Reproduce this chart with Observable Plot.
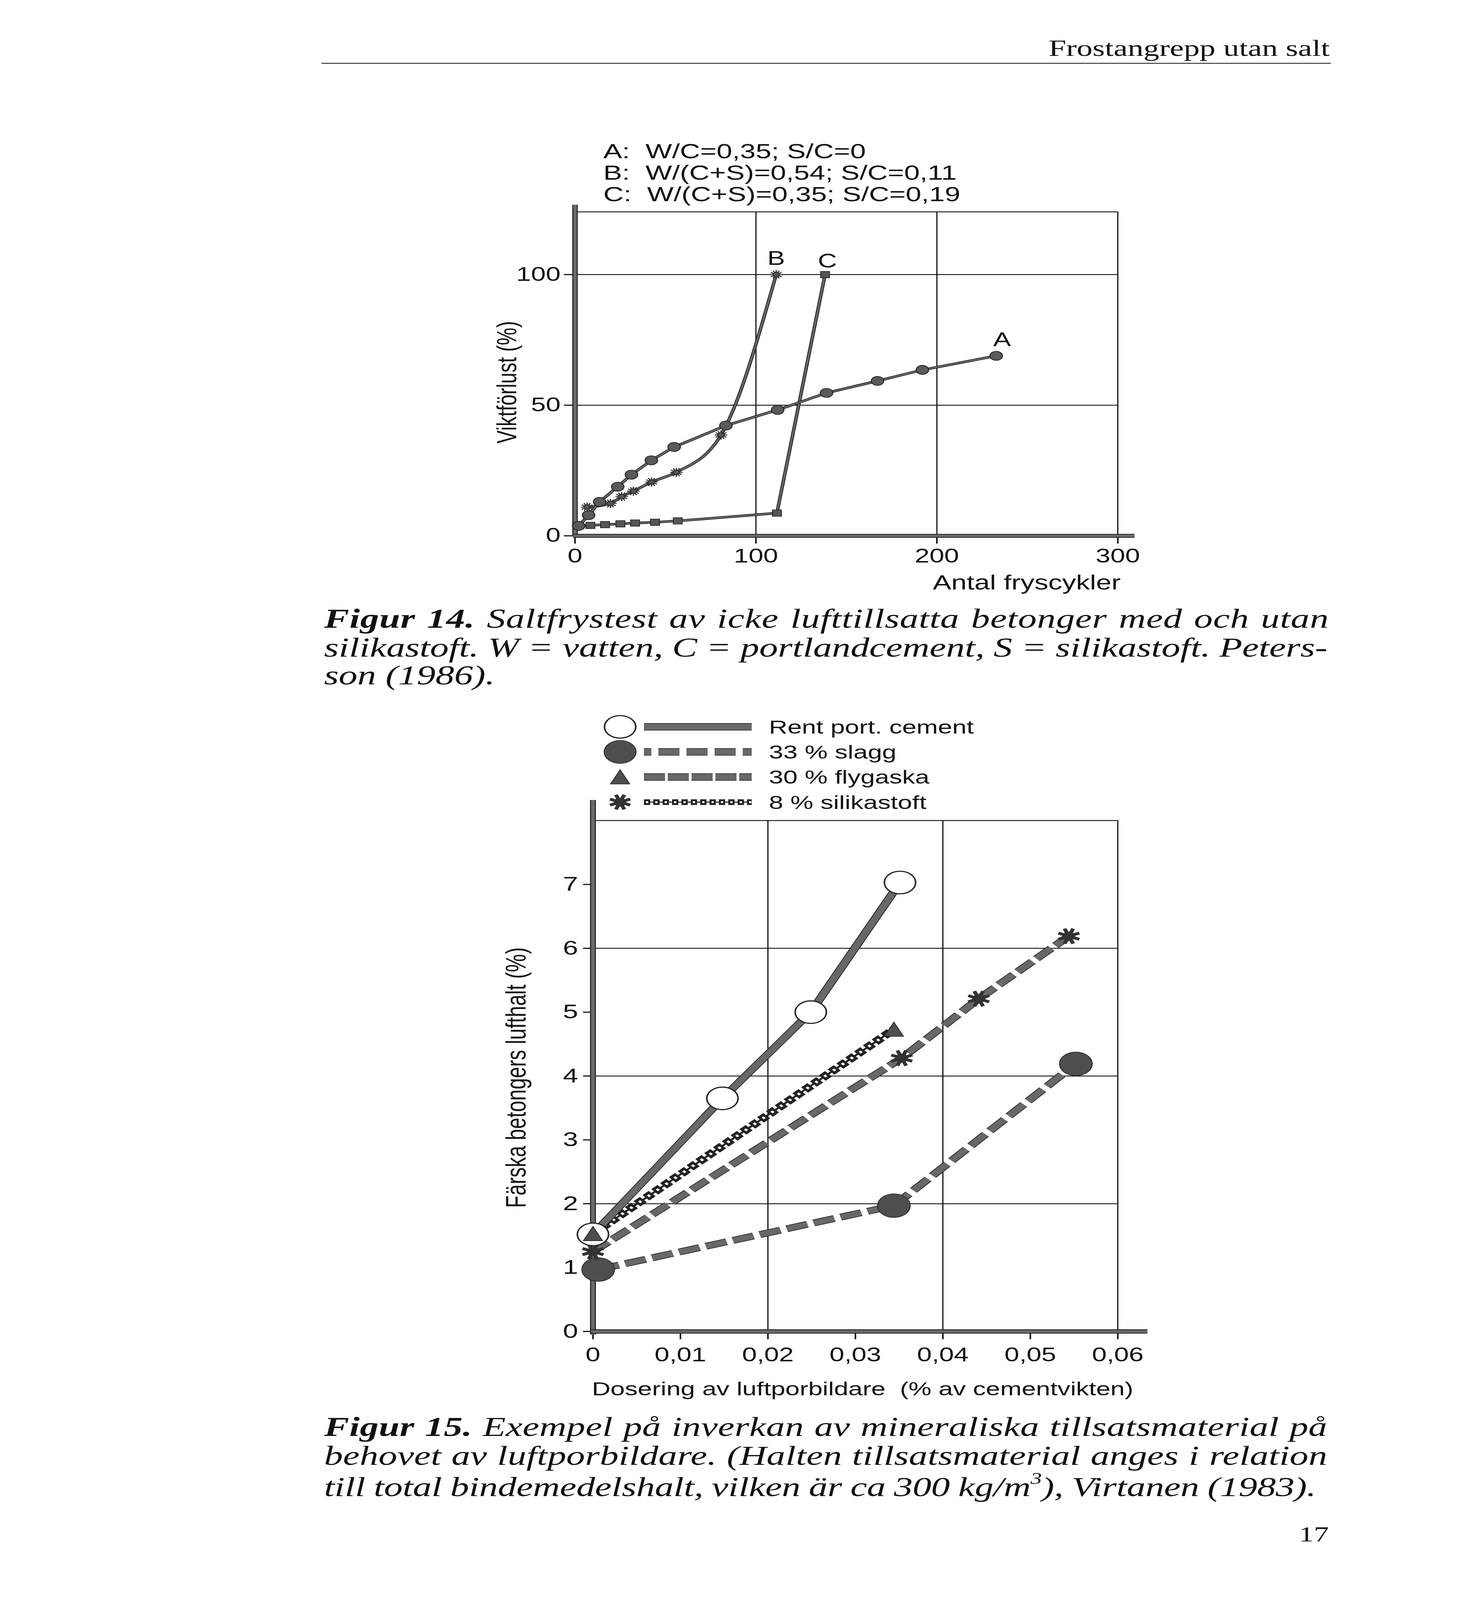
<!DOCTYPE html>
<html><head><meta charset="utf-8">
<script src="https://cdn.jsdelivr.net/npm/d3@7"></script>
<script src="https://cdn.jsdelivr.net/npm/@observablehq/plot@0.6"></script>
<style>
html,body{margin:0;padding:0;background:#fff;overflow:hidden;}
#page{position:relative;width:3790px;height:5675px;background:#fff;overflow:hidden;}
.t{position:absolute;white-space:pre;line-height:1;color:#111;}
.sans{font-family:"Liberation Sans",Arial,sans-serif;}
.serif{font-family:"Liberation Serif","Times New Roman",serif;}
svg.abs{position:absolute;}
</style></head><body><div id="page"></div>
<script>
// ---------------- Figur 14 data ----------------
const aCycles = [2, 7.5, 13.6, 23.6, 31.2, 42.2, 54.8, 83.4, 112, 139, 167.2, 192, 232.8];
const aLoss   = [3.8, 7.9, 13.0, 18.8, 23.4, 28.9, 34.0, 42.2, 48.2, 54.7, 59.3, 63.5, 68.9];
const bCycles = [6.7, 19.6, 25.8, 32.3, 42.3, 56, 80.7, 111.2];
const bLoss   = [11.0, 12.4, 15.0, 17.1, 20.6, 24.3, 38.6, 100];
const cCycles = [2, 8.5, 16.6, 25.1, 33.2, 44.2, 56.8, 111.6, 138.2];
const cLoss   = [3.8, 4.0, 4.3, 4.6, 4.9, 5.2, 5.7, 8.7, 100];
const seriesNames14 = ["A", "B", "C"];
const notes14 = ["A:  W/C=0,35; S/C=0", "B:  W/(C+S)=0,54; S/C=0,11", "C:  W/(C+S)=0,35; S/C=0,19"];
const ticks14X = [0, 100, 200, 300];
const ticks14Y = [0, 50, 100];
const grid14X = [100, 200, 300];
const grid14Y = [50, 100, 124];

// ---------------- Figur 15 data ----------------
const doseCement = [0, 0.0148, 0.0249, 0.0351];
const airCement  = [1.52, 3.65, 5.0, 7.03];
const doseSlag   = [0.0006, 0.0344, 0.0552];
const airSlag    = [0.97, 1.97, 4.19];
const doseAsh    = [0, 0.0344];
const airAsh     = [1.53, 4.73];
const doseSilica = [0, 0.0353, 0.0441, 0.0544];
const airSilica  = [1.25, 4.28, 5.21, 6.19];
const legend15 = ["Rent port. cement", "33 % slagg", "30 % flygaska", "8 % silikastoft"];
const ticks15X = [0, 0.01, 0.02, 0.03, 0.04, 0.05, 0.06];
const ticks15Y = [0, 1, 2, 3, 4, 5, 6, 7];
const grid15X = [0.02, 0.04, 0.06];
const grid15Y = [2, 4, 6, 8];

const page = document.getElementById("page");
const pts = (xs, ys) => xs.map((x, i) => ({x, y: ys[i]}));

// ---------- symbols ----------
const sunSymbol = {draw(ctx, size) {
  const R = Math.sqrt(size / Math.PI), r0 = R * 0.5;
  ctx.moveTo(r0, 0); ctx.arc(0, 0, r0, 0, 2 * Math.PI);
  for (let i = 0; i < 12; i++) { const a = i * Math.PI / 6;
    ctx.moveTo(r0 * Math.cos(a), r0 * Math.sin(a)); ctx.lineTo(R * Math.cos(a), R * Math.sin(a)); }
}};
const starSymbol = {draw(ctx, size) {
  const R = Math.sqrt(size / Math.PI);
  for (let i = 0; i < 4; i++) { const a = i * Math.PI / 4 + Math.PI / 8;
    ctx.moveTo(-R * Math.cos(a), -R * Math.sin(a)); ctx.lineTo(R * Math.cos(a), R * Math.sin(a)); }
  ctx.moveTo(R * 0.38, 0); ctx.arc(0, 0, R * 0.38, 0, 2 * Math.PI);
}};
const triSymbol = {draw(ctx, size) {
  const R = Math.sqrt(size / Math.PI);
  ctx.moveTo(0, -R); ctx.lineTo(R * 0.95, R * 0.95); ctx.lineTo(-R * 0.95, R * 0.95); ctx.closePath();
}};

function edged(data, w, opts = {}) {
  return [
    Plot.line(data, {x: "x", y: "y", stroke: "#1c1c1c", strokeWidth: w + 4, strokeLinecap: "butt", strokeLinejoin: "round", ...opts}),
    Plot.line(data, {x: "x", y: "y", stroke: "#686868", strokeWidth: w, strokeLinecap: "butt", strokeLinejoin: "round", ...opts})
  ];
}
function zipper(data, w) {
  return [
    Plot.line(data, {x: "x", y: "y", stroke: "#222", strokeWidth: 6}),
    Plot.line(data, {x: "x", y: "y", stroke: "#222", strokeWidth: w, strokeDasharray: "22 9", strokeLinecap: "butt"}),
    Plot.line(data, {x: "x", y: "y", stroke: "#fff", strokeWidth: w * 0.32, strokeDasharray: "7 24", strokeDashoffset: -7.5, strokeLinecap: "butt"})
  ];
}

// ---------------- Figur 14 chart ----------------
const A = pts(aCycles, aLoss), B = pts(bCycles, bLoss), C = pts(cCycles, cLoss);
const endA = [A[A.length - 1]], endB = [B[B.length - 1]], endC = [C[C.length - 1]];
const chart14 = Plot.plot({
  width: 1850, height: 1450,
  marginLeft: 322, marginRight: 138, marginTop: 51, marginBottom: 250,
  x: {domain: [0, 300]},
  y: {domain: [0, 124]},
  style: {fontFamily: "Liberation Sans, Arial, sans-serif", color: "#111", background: "transparent", overflow: "visible"},
  marks: [
    Plot.ruleY(grid14Y, {x1: 0, x2: 300, stroke: "#111", strokeWidth: 3}),
    Plot.ruleX(grid14X, {y1: 0, y2: 124, stroke: "#111", strokeWidth: 3}),
    Plot.axisX({ticks: ticks14X, tickSize: 28, tickPadding: 18, fontSize: 68, strokeWidth: 4, label: null}),
    Plot.axisY({ticks: ticks14Y, tickSize: 28, tickPadding: 9, fontSize: 68, strokeWidth: 4, label: null}),
    Plot.ruleX([0], {y1: 0, y2: 126.7, stroke: "#1c1c1c", strokeWidth: 14}),
    Plot.ruleX([0], {y1: 0, y2: 126.7, stroke: "#6a6a6a", strokeWidth: 9}),
    Plot.ruleY([0], {x1: -1, x2: 309.3, stroke: "#1c1c1c", strokeWidth: 14}),
    Plot.ruleY([0], {x1: -1, x2: 309.3, stroke: "#6a6a6a", strokeWidth: 9}),
    ...edged(C, 5),
    ...edged(B, 5, {curve: "monotone-x"}),
    ...edged(A, 5),
    Plot.dot(C, {x: "x", y: "y", symbol: "square", r: 13, fill: "#555", stroke: "#222", strokeWidth: 2}),
    Plot.dot(B, {x: "x", y: "y", symbol: sunSymbol, r: 16, fill: "#555", stroke: "#333", strokeWidth: 3.5}),
    Plot.dot(A, {x: "x", y: "y", r: 16, fill: "#5a5a5a", stroke: "#222", strokeWidth: 2.5}),
    Plot.text(endA, {x: "x", y: "y", text: () => seriesNames14[0], fontSize: 68, fill: "#111", dx: 15, dy: -56}),
    Plot.text(endB, {x: "x", y: "y", text: () => seriesNames14[1], fontSize: 68, fill: "#111", dx: 0, dy: -56}),
    Plot.text(endC, {x: "x", y: "y", text: () => seriesNames14[2], fontSize: 68, fill: "#111", dx: 6, dy: -46})
  ]
});
chart14.classList.add("abs");
chart14.style.left = "1150px"; chart14.style.top = "700px";
page.appendChild(chart14);

// ---------------- Figur 15 chart ----------------
const cem = pts(doseCement, airCement), slag = pts(doseSlag, airSlag), ash = pts(doseAsh, airAsh), sil = pts(doseSilica, airSilica);
const fmt15 = d => d === 0 ? "0" : d3.format(".2f")(d).replace(".", ",");
const chart15 = Plot.plot({
  width: 1850, height: 2000,
  marginLeft: 368, marginRight: 138, marginTop: 60, marginBottom: 128,
  x: {domain: [0, 0.06]},
  y: {domain: [0, 8]},
  style: {fontFamily: "Liberation Sans, Arial, sans-serif", color: "#111", background: "transparent", overflow: "visible"},
  marks: [
    Plot.ruleY(grid15Y, {x1: 0, x2: 0.06, stroke: "#111", strokeWidth: 3}),
    Plot.ruleX(grid15X, {y1: 0, y2: 8, stroke: "#111", strokeWidth: 3}),
    Plot.axisX({ticks: ticks15X, tickFormat: fmt15, tickSize: 28, tickPadding: 30, fontSize: 68, strokeWidth: 4, label: null}),
    Plot.axisY({ticks: ticks15Y, tickSize: 25, tickPadding: 13, fontSize: 70, strokeWidth: 4, label: null}),
    Plot.ruleX([0], {y1: -0.05, y2: 8.32, stroke: "#1c1c1c", strokeWidth: 15}),
    Plot.ruleX([0], {y1: -0.05, y2: 8.32, stroke: "#6a6a6a", strokeWidth: 10}),
    Plot.ruleY([0], {x1: -0.0002, x2: 0.0634, stroke: "#1c1c1c", strokeWidth: 15}),
    Plot.ruleY([0], {x1: -0.0002, x2: 0.0634, stroke: "#6a6a6a", strokeWidth: 10}),
    ...edged(slag, 20, {strokeDasharray: "55 17"}),
    ...edged(sil, 20, {strokeDasharray: "52 15"}),
    ...zipper(ash, 26),
    ...edged(cem, 19),
    Plot.dot(slag, {x: "x", y: "y", r: 42, fill: "#4e4e4e", stroke: "#222", strokeWidth: 2}),
    Plot.dot(sil, {x: "x", y: "y", symbol: starSymbol, r: 29, fill: "#4e4e4e", stroke: "#333", strokeWidth: 10}),
    Plot.dot(cem, {x: "x", y: "y", r: 40, fill: "#fff", stroke: "#222", strokeWidth: 4}),
    Plot.dot(ash, {x: "x", y: "y", symbol: triSymbol, r: 26, fill: "#4e4e4e", stroke: "#222", strokeWidth: 2})
  ]
});
chart15.classList.add("abs");
chart15.style.left = "1150px"; chart15.style.top = "2850px";
page.appendChild(chart15);

// ---------------- legend for Figur 15 (swatches) ----------------
const lg = d3.select(page).append("svg").attr("class", "abs")
  .style("left", "1540px").style("top", "2520px").attr("width", 420).attr("height", 380);
const rowsY = [58, 147, 236, 325], mx = 48, lx1 = 109, lx2 = 385;
function lgLine(y, dash, off) {
  [["#1c1c1c", 26], ["#686868", 22]].forEach(([c, w]) => lg.append("line").attr("x1", lx1).attr("x2", lx2).attr("y1", y).attr("y2", y)
    .attr("stroke", c).attr("stroke-width", w).attr("stroke-dasharray", dash || null).attr("stroke-dashoffset", off || 0));
}
lgLine(rowsY[0]);
lg.append("circle").attr("cx", mx).attr("cy", rowsY[0]).attr("r", 40).attr("fill", "#fff").attr("stroke", "#222").attr("stroke-width", 4);
lgLine(rowsY[1], "54 18", 35);
lg.append("circle").attr("cx", mx).attr("cy", rowsY[1]).attr("r", 41).attr("fill", "#4e4e4e").attr("stroke", "#222").attr("stroke-width", 2);
lgLine(rowsY[2], "54 7", 0);
lg.append("path").attr("transform", `translate(${mx},${rowsY[2]})`).attr("d", d3.symbol(triSymbol, Math.PI * 26 * 26)()).attr("fill", "#4e4e4e").attr("stroke", "#222").attr("stroke-width", 2);
lg.append("line").attr("x1", lx1).attr("x2", lx2).attr("y1", rowsY[3]).attr("y2", rowsY[3]).attr("stroke", "#222").attr("stroke-width", 4);
lg.append("line").attr("x1", lx1).attr("x2", lx2).attr("y1", rowsY[3]).attr("y2", rowsY[3]).attr("stroke", "#222").attr("stroke-width", 20).attr("stroke-dasharray", "16 8");
lg.append("line").attr("x1", lx1).attr("x2", lx2).attr("y1", rowsY[3]).attr("y2", rowsY[3]).attr("stroke", "#fff").attr("stroke-width", 7).attr("stroke-dasharray", "6 18").attr("stroke-dashoffset", -5);
lg.append("path").attr("transform", `translate(${mx},${rowsY[3]})`).attr("d", d3.symbol(starSymbol, Math.PI * 28 * 28)()).attr("fill", "#4e4e4e").attr("stroke", "#333").attr("stroke-width", 10);

// ---------------- texts ----------------
function addText(str, o) {
  const d = document.createElement("div");
  d.className = "t " + (o.family || "sans");
  d.style.fontSize = o.size + "px";
  if (o.weight) d.style.fontWeight = o.weight;
  if (o.italic) d.style.fontStyle = "italic";
  if (o.html) d.innerHTML = str; else d.textContent = str;
  page.appendChild(d);
  const asc = o.family === "serif" ? 0.8375 : 0.8465;
  if (o.rotate) {
    d.style.left = o.cx + "px"; d.style.top = o.cy + "px";
    d.style.transform = "translate(-50%,-50%) rotate(-90deg)";
  } else {
    d.style.top = (o.baseline - asc * o.size) + "px";
    if (o.anchor === "end") d.style.right = (3790 - o.x) + "px";
    else if (o.anchor === "middle") { d.style.left = o.x + "px"; d.style.transform = "translateX(-50%)"; }
    else d.style.left = o.x + "px";
  }
  return d;
}
function fit(d, target) {
  const nat = d.getBoundingClientRect().width;
  const txt = d.textContent;
  const n = (txt.match(/ /g) || []).length, m = txt.length;
  const extra = target - nat;
  d.style.letterSpacing = (extra * 0.55 / m) + "px";
  if (n) d.style.wordSpacing = (extra * 0.45 / n) + "px";
  const after = d.getBoundingClientRect().width;
  if (n) d.style.wordSpacing = (extra * 0.45 / n + (target - after) / n) + "px";
}

// header
addText("Frostangrepp utan salt", {family: "serif", size: 81, x: 3405, baseline: 199, anchor: "end"});
const rule = document.createElement("div");
Object.assign(rule.style, {position: "absolute", left: "823px", top: "223px", width: "2585px", height: "3px", background: "#222"});
page.appendChild(rule);

// Figur 14 notes and axis labels
notes14.forEach((s, i) => addText(s, {size: 72, x: 1545, baseline: [561, 638, 714][i]}));
addText("Antal fryscykler", {size: 71, x: 2870, baseline: 2091, anchor: "end"});
addText("Viktförlust (%)", {size: 70, rotate: true, cx: 1298, cy: 1356});

// Figur 14 caption
const capSize = 96, capL = 830;
let c = addText('<b>Figur 14.</b> Saltfrystest av icke lufttillsatta betonger med och utan', {family: "serif", italic: true, size: capSize, x: capL, baseline: 2227, html: true}); fit(c, 2573);
c = addText('silikastoft. W = vatten, C = portlandcement, S = silikastoft. Peters-', {family: "serif", italic: true, size: capSize, x: capL, baseline: 2329}); fit(c, 2569);
addText('son (1986).', {family: "serif", italic: true, size: capSize, x: capL, baseline: 2428});

// Figur 15 legend text and axis labels
legend15.forEach((s, i) => addText(s, {size: 66, x: 1969, baseline: [2602, 2691, 2780, 2869][i]}));
addText("Dosering av luftporbildare  (% av cementvikten)", {size: 66, x: 2209, baseline: 4949, anchor: "middle"});
addText("Färska betongers lufthalt (%)", {size: 72, rotate: true, cx: 1321, cy: 3822});

// Figur 15 caption
c = addText('<b>Figur 15.</b> Exempel på inverkan av mineraliska tillsatsmaterial på', {family: "serif", italic: true, size: capSize, x: capL, baseline: 5093, html: true}); fit(c, 2569);
c = addText('behovet av luftporbildare. (Halten tillsatsmaterial anges i relation', {family: "serif", italic: true, size: capSize, x: capL, baseline: 5195}); fit(c, 2569);
c = addText('till total bindemedelshalt, vilken är ca 300 kg/m<span style="font-size:0.6em;vertical-align:0.75em">3</span>), Virtanen (1983).', {family: "serif", italic: true, size: capSize, x: capL, baseline: 5295, html: true}); fit(c, 2540);

// page number
addText("17", {family: "serif", size: 77, x: 3403, baseline: 5467, anchor: "end"});

// the browser window may be shorter than the 5675 px page: fit the page into it vertically
const vh = window.innerHeight || 5675;
if (vh < 5675) {
  page.style.transformOrigin = "0 0";
  page.style.transform = `scaleY(${vh / 5675})`;
  document.body.style.height = vh + "px";
}
</script></body></html>
